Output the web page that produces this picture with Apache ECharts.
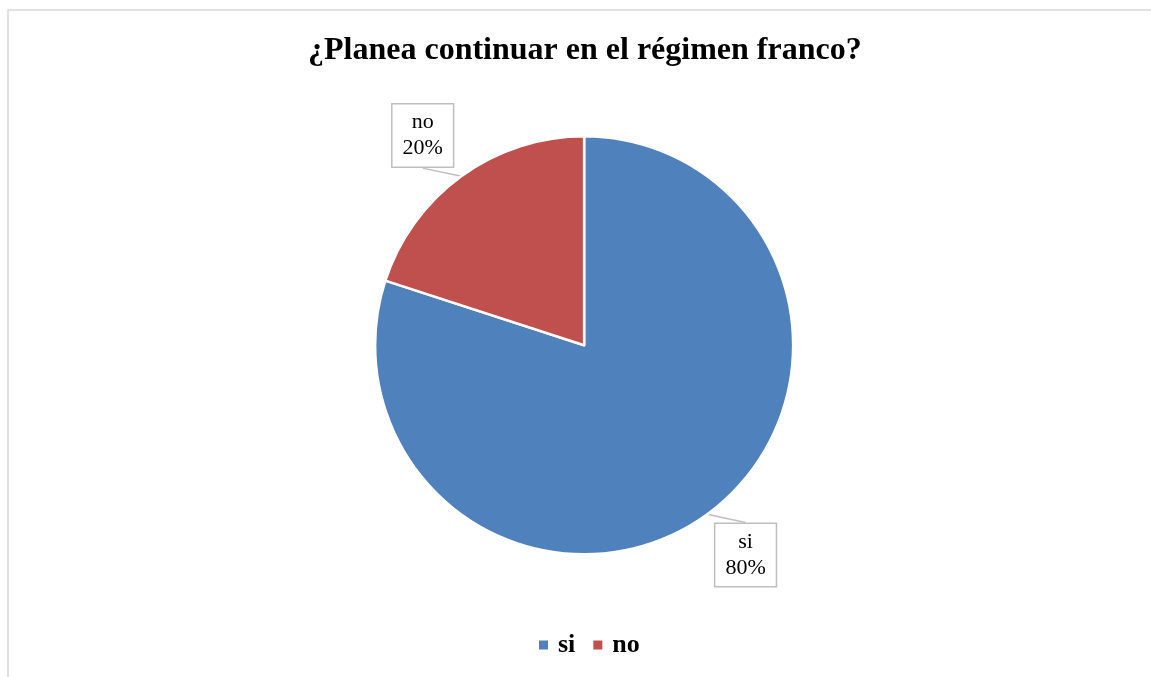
<!DOCTYPE html>
<html>
<head>
<meta charset="utf-8">
<script src="https://cdn.jsdelivr.net/npm/echarts@6/dist/echarts.min.js"></script>
<style>
  html, body { margin: 0; padding: 0; background: #fff; }
  #main { width: 1151px; height: 677px; }
</style>
</head>
<body>
<div id="main"></div>
<script>
  // datos del gráfico
  var categorias = ['si', 'no'];
  var valores = [80, 20];
  var colores = ['#4f81bd', '#c0504d'];
  var titulo = '¿Planea continuar en el régimen franco?';

  var serif = '"Liberation Serif", "Times New Roman", serif';

  var datos = categorias.map(function (c, i) {
    return { name: c, value: valores[i], itemStyle: { color: colores[i] } };
  });

  var chart = echarts.init(document.getElementById('main'));

  var option = {
    backgroundColor: '#fff',
    animation: false,
    title: {
      text: titulo,
      left: 303,
      top: 30,
      textStyle: { fontFamily: serif, fontSize: 32, fontWeight: 'bold', color: '#000' }
    },
    legend: {
      data: categorias,
      bottom: 14,
      left: 534,
      icon: 'rect',
      itemWidth: 9,
      itemHeight: 9,
      itemGap: 18,
      itemStyle: { borderWidth: 0 },
      textStyle: { fontFamily: serif, fontSize: 26, fontWeight: 'bold', color: '#000', padding: [0, 0, 0, 5] }
    },
    graphic: [{
      type: 'polyline',
      shape: { points: [[8, 677], [8, 10], [1151, 10]] },
      style: { stroke: '#d9d9d9', lineWidth: 1.5, fill: null },
      silent: true
    }],
    series: [{
      type: 'pie',
      center: ['50.75%', '51%'],
      radius: 209,
      startAngle: 90,
      clockwise: true,
      itemStyle: { borderColor: '#fff', borderWidth: 2.5 },
      label: {
        show: true,
        position: 'outside',
        formatter: '{b}\n{d}%',
        fontFamily: serif,
        fontSize: 22,
        lineHeight: 26,
        color: '#000',
        backgroundColor: '#fff',
        borderColor: '#bfbfbf',
        borderWidth: 1.5,
        padding: [6, 10, 4, 10]
      },
      labelLine: {
        show: true,
        length: 18,
        length2: 0,
        lineStyle: { color: '#bfbfbf', width: 1.5 }
      },
      labelLayout: function (p) {
        var pts = p.labelLinePoints;
        var fin = pts[pts.length - 1];
        var izq = fin[0] < 584;
        return {
          x: fin[0] + (izq ? -28 : 28),
          y: fin[1] + (izq ? -26 : 26),
          align: 'center',
          verticalAlign: 'middle'
        };
      },
      data: datos
    }]
  };

  chart.setOption(option);
</script>
</body>
</html>
